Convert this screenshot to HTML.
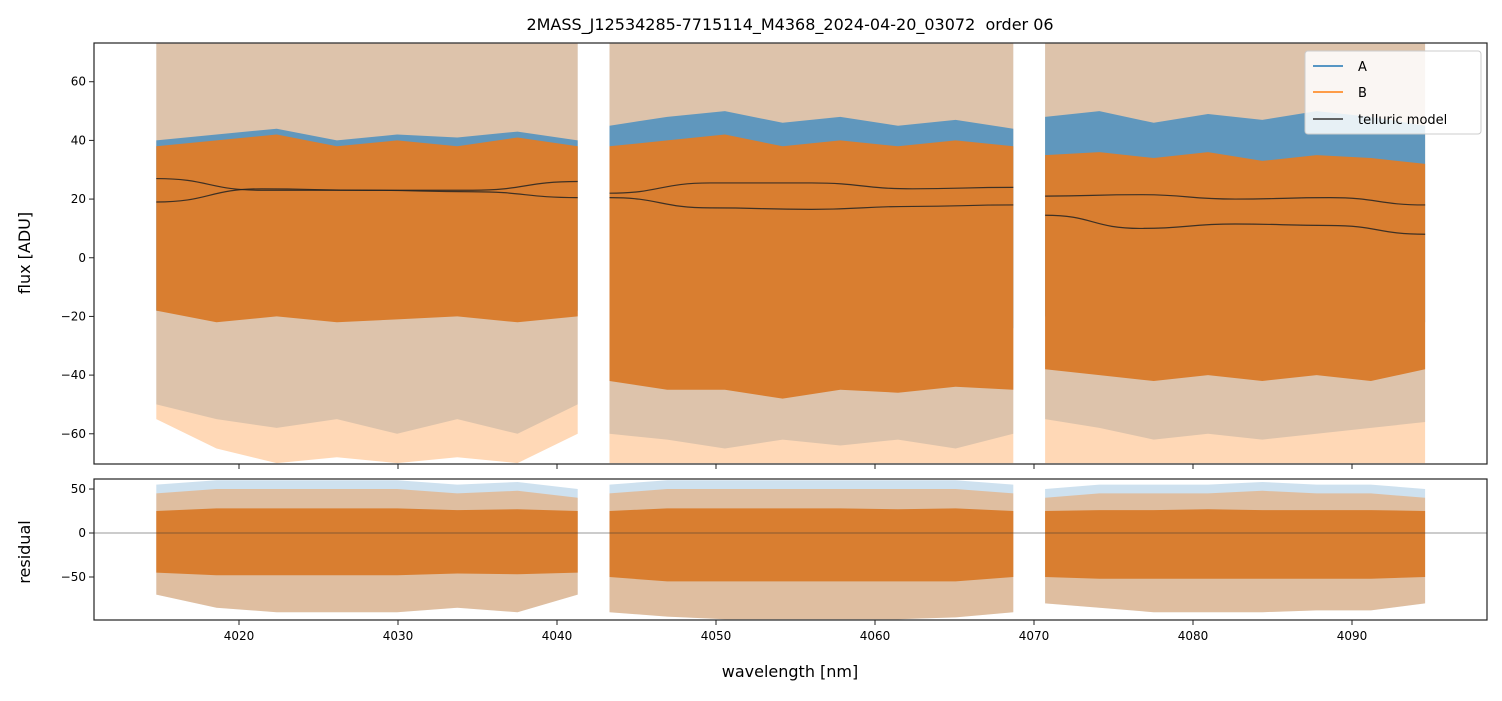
<!DOCTYPE html>
<html><head><meta charset="utf-8"><style>
body{margin:0;background:#fff;font-family:"Liberation Sans","DejaVu Sans",sans-serif}
svg text{font-family:"DejaVu Sans","Liberation Sans",sans-serif;fill:#000}
</style></head><body>
<svg id="c" width="1502" height="696" xmlns="http://www.w3.org/2000/svg">
<text x="790" y="30" font-size="16" text-anchor="middle" style="white-space:pre">2MASS_J12534285-7715114_M4368_2024-04-20_03072  order 06</text>
<text x="30" y="253" font-size="16" text-anchor="middle" transform="rotate(-90 30 253)">flux [ADU]</text>
<text x="30" y="552" font-size="16" text-anchor="middle" transform="rotate(-90 30 552)">residual</text>
<text x="790" y="677" font-size="16" text-anchor="middle">wavelength [nm]</text>
<g id="gtop"></g><g id="gbot"></g>
</svg>
<script>
const segments=[[4014.8,4041.3],[4043.3,4068.7],[4070.7,4094.6]];
const xTicks=[4020,4030,4040,4050,4060,4070,4080,4090];
const yTicksTop=[60,40,20,0,-20,-40,-60];
const yTicksBot=[50,0,-50];
const aSpikeHi=[[73,73,73,73,73,73,73,73],[73,73,73,73,73,73,73,73],[73,73,73,73,73,73,73,73]];
const aCoreHi=[[40,42,44,40,42,41,43,40],[45,48,50,46,48,45,47,44],[48,50,46,49,47,50,48,45]];
const aCoreLo=[[-18,-20,-18,-20,-19,-18,-20,-18],[-22,-25,-24,-26,-24,-25,-23,-24],[-20,-22,-24,-22,-25,-23,-24,-22]];
const aSpikeLo=[[-50,-55,-58,-55,-60,-55,-60,-50],[-60,-62,-65,-62,-64,-62,-65,-60],[-55,-58,-62,-60,-62,-60,-58,-56]];
const bSpikeHi=[[73,73,73,73,73,73,73,73],[73,73,73,73,73,73,73,73],[73,73,73,73,73,73,73,73]];
const bCoreHi=[[38,40,42,38,40,38,41,38],[38,40,42,38,40,38,40,38],[35,36,34,36,33,35,34,32]];
const bCoreLo=[[-18,-22,-20,-22,-21,-20,-22,-20],[-42,-45,-45,-48,-45,-46,-44,-45],[-38,-40,-42,-40,-42,-40,-42,-38]];
const bSpikeLo=[[-55,-65,-70,-68,-70,-68,-70,-60],[-70,-70,-70,-70,-70,-70,-70,-70],[-70,-70,-70,-70,-70,-70,-70,-70]];
const modelA=[[27,23,23,22.5,20.5],[20.5,17,16.5,17.5,18],[14.5,10,11.5,11,8]];
const modelB=[[19,23.5,23,23,26],[22,25.5,25.5,23.5,24],[21,21.5,20,20.5,18]];
const rSpikeHi=[[55,60,60,60,60,55,58,50],[55,60,60,60,60,60,60,55],[50,55,55,55,58,55,55,50]];
const rCoreHi=[[25,28,28,28,28,26,27,25],[25,28,28,28,28,27,28,25],[25,26,26,27,26,26,26,25]];
const rCoreLo=[[-45,-48,-48,-48,-48,-46,-47,-45],[-50,-55,-55,-55,-55,-55,-55,-50],[-50,-52,-52,-52,-52,-52,-52,-50]];
const rSpikeLo=[[-70,-85,-90,-90,-90,-85,-90,-70],[-90,-95,-98,-98,-98,-98,-96,-90],[-80,-85,-90,-90,-90,-88,-88,-80]];

const X0=94,X1=1487,XMIN=4010.88,XMAX=4098.49;
const xs=v=>X0+(v-XMIN)/(XMAX-XMIN)*(X1-X0);
const T0=43,T1=464,TMAX=73.2,TMIN=-70.3;
const yt=v=>T0+(TMAX-v)/(TMAX-TMIN)*(T1-T0);
const B0=479,B1=620,BMAX=61.4,BMIN=-98.9;
const yb=v=>B0+(BMAX-v)/(BMAX-BMIN)*(B1-B0);
const NS="http://www.w3.org/2000/svg";
function mk(p,t,a){const e=document.createElementNS(NS,t);for(const k in a)e.setAttribute(k,a[k]);p.appendChild(e);return e;}
function binX(s,i,n){const[a,b]=segments[s];return a+(b-a)*i/(n-1);}
function band(g,hi,lo,ys,color,op,name){
  for(let s=0;s<segments.length;s++){
    const n=hi[s].length;let up=[],dn=[];
    for(let i=0;i<n;i++){const x=xs(binX(s,i,n));up.push(x.toFixed(1)+','+ys(hi[s][i]).toFixed(1));dn.unshift(x.toFixed(1)+','+ys(lo[s][i]).toFixed(1));}
    const p=mk(g,'polygon',{points:up.concat(dn).join(' '),fill:color,'fill-opacity':op});
    
    
  }
}
function model(g,arr,name){
  for(let s=0;s<segments.length;s++){
    const n=arr[s].length;let d='';
    for(let i=0;i<n;i++){const x=xs(binX(s,i,n)),y=yt(arr[s][i]);
      if(i==0)d='M'+x+','+y;else{const px=xs(binX(s,i-1,n)),py=yt(arr[s][i-1]);const mx=(px+x)/2;d+=` C${mx},${py} ${mx},${y} ${x},${y}`;}}
    const p=mk(g,'path',{d:d,fill:'none',stroke:'#222',"stroke-width":1.2,"stroke-opacity":0.85});
    
    
  }
}
function axes(g,y0,y1,ys,yticks,labels){
  const r=mk(g,'rect',{x:X0,y:y0,width:X1-X0,height:y1-y0,fill:'none',stroke:'#222','stroke-width':1.2});
  
  
  xTicks.forEach(v=>{mk(g,'line',{x1:xs(v),x2:xs(v),y1:y1,y2:y1+5,stroke:'#222'});
    if(labels){const t=mk(g,'text',{x:xs(v),y:y1+20,'font-size':12,'text-anchor':'middle'});t.textContent=v;
      
      }});
  yticks.forEach(v=>{const y=ys(v);mk(g,'line',{x1:X0-5,x2:X0,y1:y,y2:y,stroke:'#222'});
    const t=mk(g,'text',{x:X0-8,y:y+4,'font-size':12,'text-anchor':'end'});t.textContent=(v<0?'\u2212'+(-v):v);
    
    });
}
const gTopPanel=document.getElementById('gtop'),gBotPanel=document.getElementById('gbot');
const cp=mk(gTopPanel,'clipPath',{id:'ct'});mk(cp,'rect',{x:X0,y:T0,width:X1-X0,height:T1-T0});
const gt=mk(gTopPanel,'g',{'clip-path':'url(#ct)'});
band(gt,aSpikeHi,aSpikeLo,yt,'#1f77b4',0.22,'a-spikes');
band(gt,bSpikeHi,bSpikeLo,yt,'#ff7f0e',0.3,'b-spikes');
band(gt,aCoreHi,aCoreLo,yt,'#4a8fc0',0.85,'a-core');
band(gt,bCoreHi,bCoreLo,yt,'#d97e30',1,'b-core');
model(gt,modelA,'telluric-model-a');model(gt,modelB,'telluric-model-b');
axes(gTopPanel,T0,T1,yt,yTicksTop,false);
const cb=mk(gBotPanel,'clipPath',{id:'cb'});mk(cb,'rect',{x:X0,y:B0,width:X1-X0,height:B1-B0});
const gb=mk(gBotPanel,'g',{'clip-path':'url(#cb)'});
band(gb,rSpikeHi,rSpikeLo,yb,'#1f77b4',0.22,'a-res-spikes');
band(gb,rSpikeHi.map(r=>r.map(v=>v-10)),rSpikeLo,yb,'#ff7f0e',0.35,'b-res-spikes');
band(gb,rCoreHi,rCoreLo,yb,'#d97e30',1,'res-core');
mk(gb,'line',{x1:X0,x2:X1,y1:yb(0),y2:yb(0),stroke:'#333','stroke-width':0.6});
axes(gBotPanel,B0,B1,yb,yTicksBot,true);
const lg=mk(gTopPanel,'g',{});


mk(lg,'rect',{x:1305,y:51,width:176,height:83,fill:'#fff','fill-opacity':0.85,stroke:'#ccc',rx:3});
[['A','#1f77b4',66],['B','#ff7f0e',92],['telluric model','#333',119]].forEach(([n,c,y])=>{
  const e=mk(lg,'g',{});
  
  
  mk(e,'line',{x1:1313,x2:1343,y1:y,y2:y,stroke:c,'stroke-width':1.5});
  const t=mk(e,'text',{x:1358,y:y+5,'font-size':13});t.textContent=n;});
</script>
</body></html>
